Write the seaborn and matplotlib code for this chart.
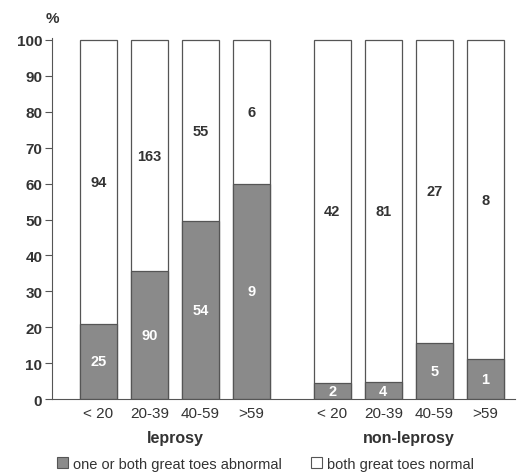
import matplotlib
matplotlib.use("Agg")
import matplotlib.pyplot as plt
import matplotlib.transforms as mtransforms
from matplotlib.patches import Patch
import numpy as np
import pandas as pd
import seaborn as sns

# data: counts of patients per age band
age_bands = ["< 20", "20-39", "40-59", ">59"]
groups = ["leprosy", "non-leprosy"]
abnormal_leprosy = [25, 90, 54, 9]
normal_leprosy = [94, 163, 55, 6]
abnormal_nonleprosy = [2, 4, 5, 1]
normal_nonleprosy = [42, 81, 27, 8]

sns.set_style("ticks")
plt.rcParams["font.family"] = ["Liberation Sans", "DejaVu Sans"]

ink = "#333333"
gray = "#8a8a8a"

# build table, group gap of 0.59 bar-steps between the two groups
rows = []
for g, (ab, no) in enumerate([(abnormal_leprosy, normal_leprosy),
                              (abnormal_nonleprosy, normal_nonleprosy)]):
    for i, band in enumerate(age_bands):
        rows.append({"group": groups[g], "band": band,
                     "pos": i + g * 4.59,
                     "abnormal": ab[i], "normal": no[i]})
df = pd.DataFrame(rows)
df["total"] = df["abnormal"] + df["normal"]
df["pct_abn"] = df["abnormal"] / df["total"] * 100
df["pct_all"] = 100.0

fig = plt.figure(figsize=(5.2, 4.77), dpi=100)
ax = fig.add_axes([0.1, 0.161, 0.89, 0.757])

sns.barplot(data=df, x="pos", y="pct_all", native_scale=True, color="white",
            edgecolor="#555555", linewidth=0.9, width=0.72, saturation=1,
            errorbar=None, ax=ax)
sns.barplot(data=df, x="pos", y="pct_abn", native_scale=True, color=gray,
            edgecolor="#555555", linewidth=0.9, width=0.72, saturation=1,
            errorbar=None, ax=ax)

# count labels in the middle of each segment
for _, r in df.iterrows():
    ax.text(r["pos"], r["pct_abn"] / 2, str(r["abnormal"]), ha="center",
            va="center", color="white", fontsize=10.5, fontweight="bold")
    ax.text(r["pos"], (r["pct_abn"] + 100) / 2, str(r["normal"]), ha="center",
            va="center", color=ink, fontsize=10.5, fontweight="bold")

ax.set_xlim(-0.91, 8.17)
ax.set_ylim(0, 100.5)
ax.set_yticks(range(0, 101, 10))
ax.set_xticks(df["pos"])
ax.set_xticklabels(list(df["band"]), fontsize=11, color=ink)
ax.tick_params(axis="x", length=0, pad=5)
ax.tick_params(axis="y", length=5, width=0.8, color="#555555", labelsize=11,
               labelcolor=ink, pad=2)
for lab in ax.get_yticklabels():
    lab.set_fontweight("bold")
ax.set_xlabel("")
ax.set_ylabel("")

for s in ["top", "right"]:
    ax.spines[s].set_visible(False)
ax.spines["left"].set_color("#555555")
ax.spines["left"].set_linewidth(0.8)
ax.spines["bottom"].set_color("#555555")
ax.spines["bottom"].set_linewidth(0.8)

# group labels under the age bands
trans = mtransforms.blended_transform_factory(ax.transData, ax.transAxes)
for g, name in enumerate(groups):
    centre = df.loc[df["group"] == name, "pos"].mean()
    ax.text(centre, -0.105, name, transform=trans, ha="center", va="center",
            fontsize=11.5, fontweight="bold", color=ink)

fig.text(0.1, 0.96, "%", ha="center", va="center", fontsize=11,
         fontweight="bold", color=ink)

handles = [Patch(facecolor=gray, edgecolor="#555555", linewidth=0.8),
           Patch(facecolor="white", edgecolor="#555555", linewidth=0.8)]
fig.legend(handles, ["one or both great toes abnormal", "both great toes normal"],
           loc="center", bbox_to_anchor=(0.51, 0.026), ncol=2, frameon=False,
           fontsize=10.5, handlelength=0.8, handleheight=0.8, handletextpad=0.3,
           columnspacing=2.0, labelcolor=ink)

fig.savefig("out.png", dpi=100, facecolor="white")
